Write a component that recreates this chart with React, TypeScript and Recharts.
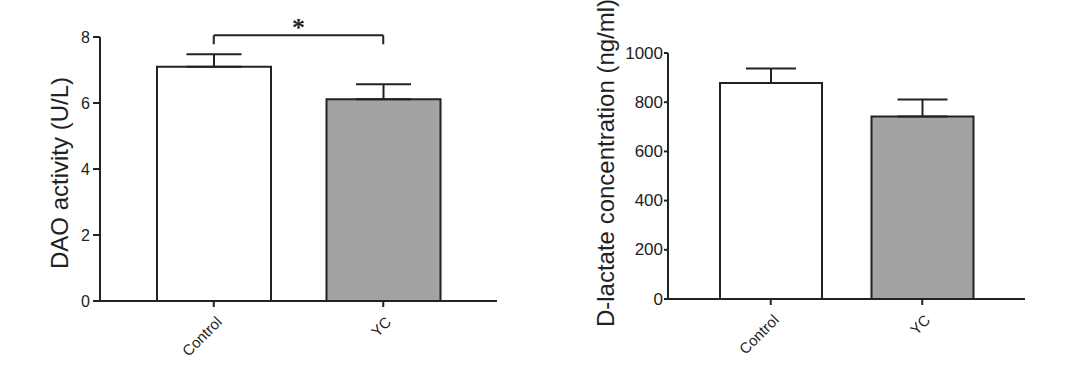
import React from 'react'
import { BarChart, Bar, XAxis, YAxis, Cell, ErrorBar, ReferenceLine } from 'recharts'

const groups = ['Control', 'YC']
const daoMeans = [7.1, 6.11]
const daoSem = [0.38, 0.46]
const lactateMeans = [878, 742]
const lactateSem = [59, 69]
const daoTicks = [0, 2, 4, 6, 8]
const lactateTicks = [0, 200, 400, 600, 800, 1000]
const barColors = ['#ffffff', '#a3a2a5']

const INK = '#222'
const FONT = 'Arial, "Liberation Sans", sans-serif'

const daoData = groups.map((g, i) => ({ group: g, value: daoMeans[i], err: [0, daoSem[i]] }))
const lactateData = groups.map((g, i) => ({ group: g, value: lactateMeans[i], err: [0, lactateSem[i]] }))

const SlantTick = ({ x, y, payload }: any) => (
  <g transform={`translate(${x + 9},${y + 14})`}>
    <text textAnchor="end" transform="rotate(-45)" fontSize={15} fill={INK} fontFamily={FONT}>
      {payload.value}
    </text>
  </g>
)

const NumTick = ({ x, y, payload, size }: any) => (
  <text x={x} y={y} textAnchor="end" dominantBaseline="central" fontSize={size} fill={INK} fontFamily={FONT}>
    {payload.value}
  </text>
)

const AxisTitle = ({ text, cx, cy }: { text: string; cx: number; cy: number }) => (
  <text
    transform={`translate(${cx},${cy}) rotate(-90)`}
    textAnchor="middle"
    dominantBaseline="central"
    fontSize={24}
    fill={INK}
    fontFamily={FONT}
  >
    {text}
  </text>
)

const axisLine = { stroke: INK, strokeWidth: 2 }

export default function App() {
  return (
    <div style={{ position: 'absolute', left: 0, top: 0, width: 1086, height: 371, background: '#fff' }}>
      <div style={{ position: 'absolute', left: 0, top: 0 }}>
        <BarChart width={540} height={371} data={daoData} margin={{ top: 37, right: 43, bottom: 30, left: 0 }}>
          <XAxis
            dataKey="group"
            height={40}
            padding={{ left: 29, right: 29 }}
            axisLine={axisLine}
            tickLine={axisLine}
            tickSize={6}
            tickMargin={2}
            tick={<SlantTick />}
            interval={0}
          />
          <YAxis
            width={100}
            domain={[0, 8]}
            ticks={daoTicks}
            axisLine={axisLine}
            tickLine={axisLine}
            tickSize={7}
            tickMargin={3}
            tick={<NumTick size={16} />}
            label={<AxisTitle text="DAO activity (U/L)" cx={59} cy={173} />}
          />
          <Bar dataKey="value" barSize={114} stroke={INK} strokeWidth={2} isAnimationActive={false}>
            {daoData.map((d, i) => (
              <Cell key={d.group} fill={barColors[i]} />
            ))}
            <ErrorBar dataKey="err" width={27.5} stroke={INK} strokeWidth={2} isAnimationActive={false} />
          </Bar>
          <ReferenceLine
            segment={[{ x: 'Control', y: 8.05 }, { x: 'YC', y: 8.05 }]}
            stroke={INK}
            strokeWidth={2}
            ifOverflow="visible"
            label={{ value: '*', position: 'top', fontSize: 26, fontWeight: 'bold', fill: INK, dy: 6 }}
          />
          <ReferenceLine
            segment={[{ x: 'Control', y: 8.05 }, { x: 'Control', y: 7.78 }]}
            stroke={INK}
            strokeWidth={2}
            ifOverflow="visible"
          />
          <ReferenceLine
            segment={[{ x: 'YC', y: 8.05 }, { x: 'YC', y: 7.78 }]}
            stroke={INK}
            strokeWidth={2}
            ifOverflow="visible"
          />
        </BarChart>
      </div>
      <div style={{ position: 'absolute', left: 540, top: 0 }}>
        <BarChart width={546} height={371} data={lactateData} margin={{ top: 53, right: 61, bottom: 32, left: 0 }}>
          <XAxis
            dataKey="group"
            height={40}
            padding={{ left: 27, right: 27 }}
            axisLine={axisLine}
            tickLine={axisLine}
            tickSize={6}
            tickMargin={2}
            tick={<SlantTick />}
            interval={0}
          />
          <YAxis
            width={128}
            domain={[0, 1000]}
            ticks={lactateTicks}
            axisLine={axisLine}
            tickLine={axisLine}
            tickSize={4}
            tickMargin={1}
            tick={<NumTick size={17} />}
            label={<AxisTitle text="D-lactate concentration (ng/ml)" cx={65} cy={163} />}
          />
          <Bar dataKey="value" barSize={102} stroke={INK} strokeWidth={2} isAnimationActive={false}>
            {lactateData.map((d, i) => (
              <Cell key={d.group} fill={barColors[i]} />
            ))}
            <ErrorBar dataKey="err" width={25} stroke={INK} strokeWidth={2} isAnimationActive={false} />
          </Bar>
        </BarChart>
      </div>
    </div>
  )
}
